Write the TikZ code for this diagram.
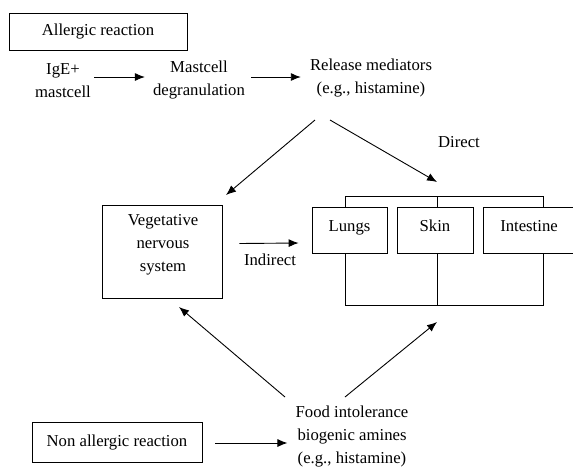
\documentclass[tikz,border=0pt]{standalone}
\usepackage{fontspec}
\setmainfont{Liberation Serif}
\usetikzlibrary{arrows.meta}
\begin{document}
\begin{tikzpicture}[x=1pt,y=-1pt,
  every node/.style={font=\fontsize{16.7}{23}\selectfont, align=center, inner sep=2pt},
  box/.style={draw, line width=0.8pt},
  arr/.style={line width=0.9pt, -{Latex[length=10pt,width=8pt]}},
  ln/.style={line width=0.8pt}]
\useasboundingbox (0,0) rectangle (573,467);
% top row
\node[box, minimum width=178pt, minimum height=37pt] (allergic) at (98,31.5) {Allergic reaction};
\node (ige) at (63,81) {IgE+\\mastcell};
\node (degr) at (199,80) {Mastcell\\degranulation};
\node (release) at (371,78) {Release mediators\\(e.g., histamine)};
\draw[arr] ([xshift=1pt,yshift=4pt]ige.east) -- ([xshift=-6pt,yshift=3pt]degr.west);
\draw[arr] ([xshift=4pt,yshift=3pt]degr.east) -- ([xshift=-7pt,yshift=1pt]release.west);
% branching arrows
\coordinate (r1) at (315,120);
\coordinate (r2) at (330,120);
\coordinate (t2) at (437,182);
\node (direct) at (459,142) {Direct};
% vegetative box
\node[box, minimum width=120pt, minimum height=93pt] (veg) at (162,251.5) {};
\node (vegt) at (163,245) {Vegetative\\nervous\\system};
\coordinate (t1) at (226,195);
\draw[arr] (r1) -- (t1);
\draw[arr] (r2) -- (t2);
% organ boxes
\node[box, minimum width=75pt, minimum height=46pt, text depth=8pt] (lungs) at (349.5,230) {Lungs};
\node[box, minimum width=76pt, minimum height=46pt, text depth=8pt] (skin) at (435,230) {Skin};
\node[box, minimum width=92pt, minimum height=46pt, text depth=8pt] (intest) at (529,230) {Intestine};
\coordinate (b1) at (345,196);
\coordinate (b2) at (437,196);
\coordinate (b3) at (543,196);
\coordinate (c1) at (345,305);
\coordinate (c2) at (437,305);
\coordinate (c3) at (543,305);
\draw[ln] (b1 |- lungs.north) -- (b1) -- (b3) -- (b3 |- intest.north);
\draw[ln] (b2) -- (b2 |- skin.north);
\draw[ln] (c1 |- lungs.south) -- (c1) -- (c3) -- (c3 |- intest.south);
\draw[ln] (c2 |- skin.south) -- (c2);
% indirect
\draw[arr] ([xshift=17pt,yshift=8pt]veg.east) -- ([xshift=-13pt,yshift=-13pt]lungs.west);
\node (indirect) at (270,260) {Indirect};
% bottom
\node[box, minimum width=170pt, minimum height=40pt] (nonall) at (117,442) {Non allergic reaction};
\node (food) at (352,436) {Food intolerance\\biogenic amines\\(e.g., histamine)};
\draw[arr] ([xshift=13pt,yshift=-1pt]nonall.east) -- ([xshift=-6pt,yshift=-7pt]food.west);
\coordinate (f1) at (285,397);
\coordinate (f2) at (345,397);
\coordinate (u1) at (179,307);
\coordinate (u2) at (437,322);
\draw[arr] (f1) -- (u1);
\draw[arr] (f2) -- (u2);
\end{tikzpicture}
\end{document}
